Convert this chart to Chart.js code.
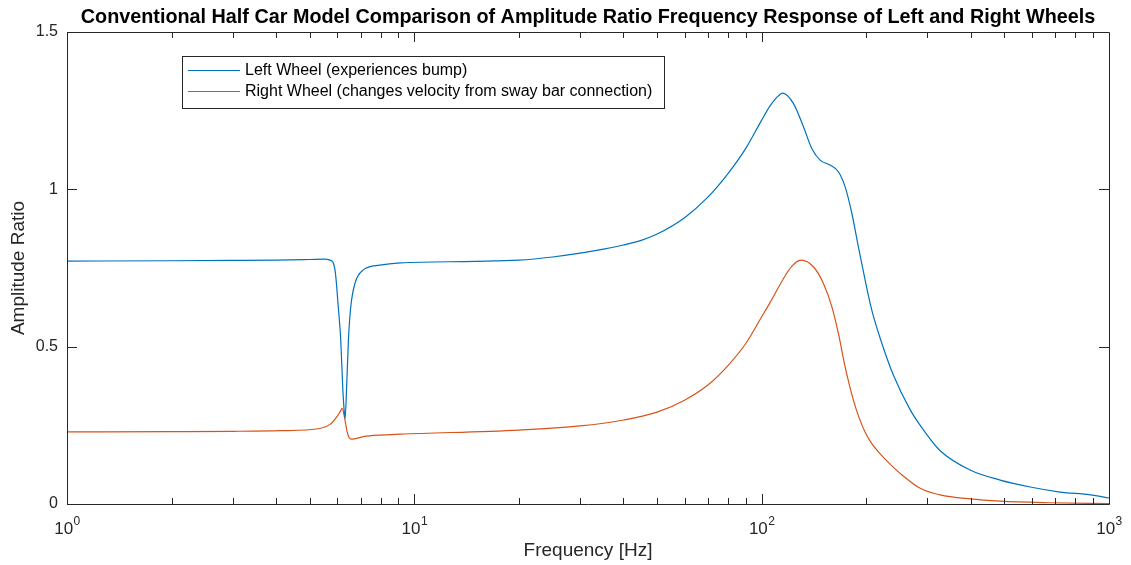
<!DOCTYPE html>
<html>
<head>
<meta charset="utf-8">
<script src="https://cdn.jsdelivr.net/npm/chart.js@4/dist/chart.umd.min.js"></script>
<style>
  html, body { margin: 0; padding: 0; background: #fff; }
  #wrap { width: 1131px; height: 565px; }
</style>
</head>
<body>
<div id="wrap"><canvas id="myChart" width="1131" height="565"></canvas></div>
<script>
// waarden
var chartTitle = 'Conventional Half Car Model Comparison of Amplitude Ratio Frequency Response of Left and Right Wheels';
var seriesNames = ['Left Wheel (experiences bump)', 'Right Wheel (changes velocity from sway bar connection)'];
var xTickValues = [1, 10, 100, 1000];
var xTickExp = ['0', '1', '2', '3'];
var yTickLabels = ['0', '0.5', '1', '1.5'];

var freqLeft = [1, 2, 3, 4, 5, 5.5, 5.72, 5.91, 6.04, 6.14, 6.22, 6.29, 6.32, 6.39, 6.46, 6.56, 6.75, 7.13, 7.96, 9.1,
  15, 20, 25, 30, 35, 40, 45, 50, 60, 70, 80, 90, 100, 105.7, 110, 115, 123.4, 131.9, 139.4, 147.3, 157.4, 166.3, 173.9,
  181.8, 189.8, 198.5, 207.5, 221.8, 239.4, 267.5, 286, 326, 398, 486, 593, 723, 883, 1000];
var ampLeft = [0.772, 0.773, 0.774, 0.775, 0.777, 0.778, 0.775, 0.744, 0.626, 0.521, 0.372, 0.289, 0.272, 0.384, 0.521, 0.626, 0.702, 0.744, 0.759, 0.766,
  0.771, 0.775, 0.785, 0.797, 0.81, 0.823, 0.838, 0.858, 0.91, 0.975, 1.05, 1.13, 1.22, 1.265, 1.29, 1.306, 1.273, 1.199, 1.13, 1.093, 1.077, 1.056, 1.008,
  0.924, 0.818, 0.712, 0.616, 0.511, 0.41, 0.3, 0.25, 0.17, 0.108, 0.076, 0.054, 0.038, 0.029, 0.019];

var freqRight = [1, 2, 3, 4.11, 5.35, 5.72, 5.98, 6.11, 6.2, 6.29, 6.39, 6.48, 6.6, 7.13, 7.96, 9.1,
  20, 30, 40, 50, 60, 70, 80, 90, 100, 105.7, 115.4, 122, 129.8, 140.9, 150.6, 159.2, 166.3, 173.9, 183.7, 191.1, 198.6, 208, 219, 235, 250, 286, 326, 398, 486, 673, 1000];
var ampRight = [0.229, 0.23, 0.231, 0.233, 0.24, 0.253, 0.277, 0.293, 0.304, 0.277, 0.235, 0.212, 0.206, 0.214, 0.219, 0.222,
  0.235, 0.248, 0.267, 0.292, 0.33, 0.378, 0.44, 0.51, 0.595, 0.64, 0.715, 0.755, 0.775, 0.754, 0.701, 0.627, 0.542, 0.436, 0.33, 0.272, 0.228, 0.19, 0.16, 0.125, 0.098, 0.05, 0.029, 0.016, 0.009, 0.004, 0.001];

var colorLeft = '#0072BD';
var colorRight = '#D95319';
var axisColor = '#262626';
var fontFam = '"Liberation Sans", Arial, sans-serif';

function toPoints(xs, ys) {
  var pts = [];
  for (var i = 0; i < xs.length; i++) pts.push({ x: xs[i], y: ys[i] });
  return pts;
}

// tick marks naar binnen, kader, titel en legenda
var matlabLook = {
  id: 'matlabLook',
  afterDraw: function (chart) {
    var ctx = chart.ctx;
    var a = chart.chartArea;
    var xs = chart.scales.x;
    var ys = chart.scales.y;
    ctx.save();
    ctx.strokeStyle = axisColor;
    ctx.lineWidth = 1;
    ctx.beginPath();
    ctx.rect(Math.round(a.left) + 0.5, Math.round(a.top) + 0.5, Math.round(a.right - a.left), Math.round(a.bottom - a.top));
    ctx.stroke();

    // x ticks (major + minor)
    ctx.beginPath();
    for (var d = 0; d < 3; d++) {
      for (var m = 1; m <= 9; m++) {
        var v = Math.pow(10, d) * m;
        var px = Math.round(xs.getPixelForValue(v)) + 0.5;
        var len = m === 1 ? 10 : 6;
        ctx.moveTo(px, a.bottom); ctx.lineTo(px, a.bottom - len);
        ctx.moveTo(px, a.top); ctx.lineTo(px, a.top + len);
      }
    }
    ys.ticks.forEach(function (t) {
      var py = Math.round(ys.getPixelForValue(t.value)) + 0.5;
      ctx.moveTo(a.left, py); ctx.lineTo(a.left + 10, py);
      ctx.moveTo(a.right, py); ctx.lineTo(a.right - 10, py);
    });
    ctx.stroke();

    // x tick labels met exponent
    ctx.fillStyle = axisColor;
    ctx.textBaseline = 'middle';
    xTickValues.forEach(function (v, i) {
      var px = xs.getPixelForValue(v);
      ctx.font = '17px ' + fontFam;
      var w1 = ctx.measureText('10').width;
      ctx.font = '12px ' + fontFam;
      var w2 = ctx.measureText(xTickExp[i]).width;
      var x0 = px - (w1 + w2) / 2;
      ctx.font = '17px ' + fontFam;
      ctx.textAlign = 'left';
      ctx.fillText('10', x0, a.bottom + 25);
      ctx.font = '12px ' + fontFam;
      ctx.fillText(xTickExp[i], x0 + w1 + 0.5, a.bottom + 17.5);
    });

    // titel
    ctx.fillStyle = '#000';
    ctx.font = 'bold 19.8px ' + fontFam;
    ctx.textAlign = 'center';
    ctx.fillText(chartTitle, (a.left + a.right) / 2, 18);

    // legenda
    var lx = 182, ly = 56, lw = 482, lh = 52;
    ctx.fillStyle = '#fff';
    ctx.fillRect(lx, ly, lw, lh);
    ctx.strokeStyle = axisColor;
    ctx.strokeRect(lx + 0.5, ly + 0.5, lw, lh);
    var cols = [colorLeft, colorRight];
    ctx.font = '16px ' + fontFam;
    ctx.textAlign = 'left';
    for (var k = 0; k < 2; k++) {
      var yy = ly + 14 + k * 21;
      ctx.strokeStyle = cols[k];
      ctx.beginPath();
      ctx.moveTo(188, yy + 0.5); ctx.lineTo(240, yy + 0.5);
      ctx.stroke();
      ctx.fillStyle = '#000';
      ctx.fillText(seriesNames[k], 245, yy + 1);
    }
    ctx.restore();
  }
};

var config = {
  type: 'line',
  data: {
    datasets: [{
      label: seriesNames[0],
      data: toPoints(freqLeft, ampLeft),
      borderColor: colorLeft,
      borderWidth: 1.2,
      pointRadius: 0,
      cubicInterpolationMode: 'monotone',
      fill: false
    }, {
      label: seriesNames[1],
      data: toPoints(freqRight, ampRight),
      borderColor: colorRight,
      borderWidth: 1.2,
      pointRadius: 0,
      cubicInterpolationMode: 'monotone',
      fill: false
    }]
  },
  options: {
    responsive: false,
    animation: false,
    layout: { padding: { top: 32, right: 22, left: 0, bottom: 0 } },
    plugins: {
      legend: { display: false },
      title: { display: false },
      tooltip: { enabled: false }
    },
    scales: {
      x: {
        type: 'logarithmic',
        min: 1,
        max: 1000,
        grid: { display: false, drawTicks: false },
        border: { display: false },
        ticks: { display: false },
        title: {
          display: true,
          text: 'Frequency [Hz]',
          color: axisColor,
          font: { family: fontFam, size: 19 },
          padding: { top: 0, bottom: 3 }
        },
        afterFit: function (s) { s.height = 61; }
      },
      y: {
        min: 0,
        max: 1.5,
        grid: { display: false, drawTicks: false },
        border: { display: false },
        ticks: {
          stepSize: 0.5,
          padding: 9,
          color: axisColor,
          font: { family: fontFam, size: 16 },
          callback: function (v) {
            var i = Math.round(v / 0.5);
            return yTickLabels[i];
          }
        },
        title: {
          display: true,
          text: 'Amplitude Ratio',
          color: axisColor,
          font: { family: fontFam, size: 19 },
          padding: { top: 7, bottom: 0 }
        },
        afterFit: function (s) { s.width = 67; }
      }
    }
  },
  plugins: [matlabLook]
};

var myChart = new Chart(document.getElementById('myChart'), config);
</script>
</body>
</html>
